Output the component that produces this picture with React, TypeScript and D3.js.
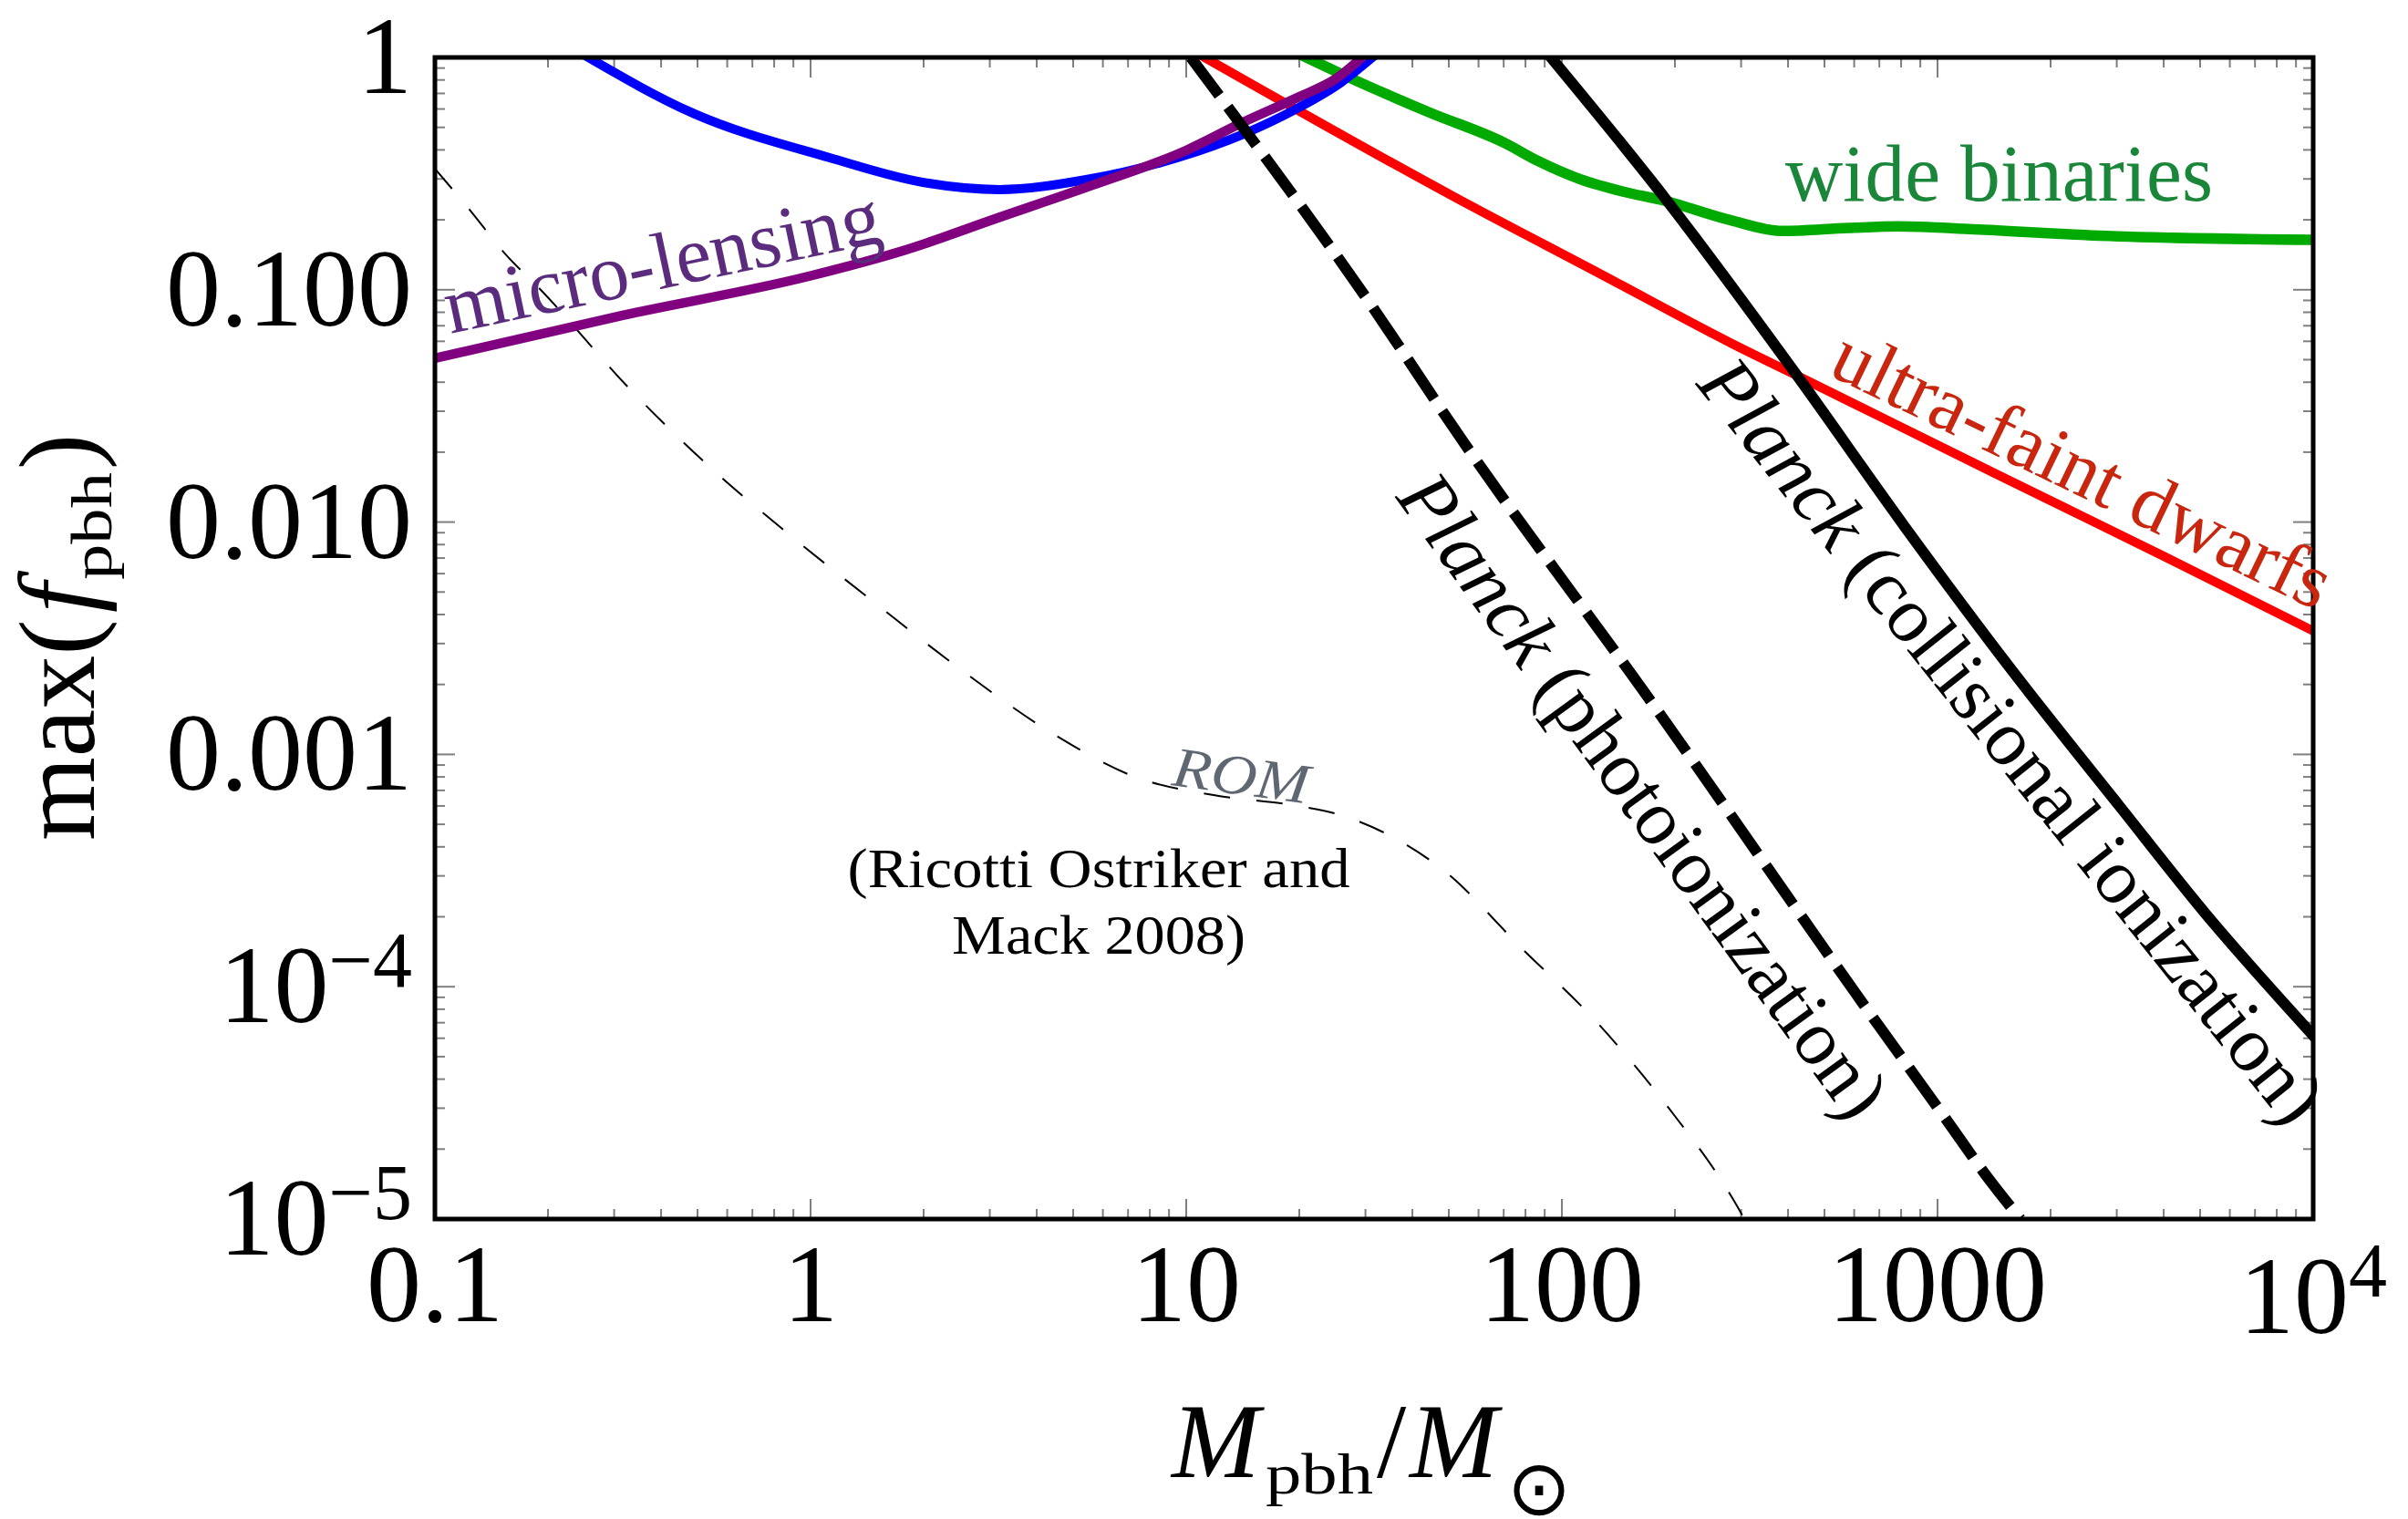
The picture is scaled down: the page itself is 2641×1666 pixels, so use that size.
import React from "react";
import * as d3 from "d3";

const WIDTH = 2641;
const HEIGHT = 1666;
const PLOT = { left: 477, right: 2537, top: 63, bottom: 1337 };

// Upper bounds on the PBH dark-matter fraction: mass in solar masses, max f_pbh.
const lensingBlueMass = [0.256, 0.479, 1.125, 1.99, 3.18, 5.41, 9.46, 14.2, 19.5, 25.9, 31.3];
const lensingBlueF = [1.0, 0.582, 0.37, 0.29, 0.27, 0.298, 0.37, 0.468, 0.597, 0.783, 1.0];

const microLensingMass = [0.1, 0.316, 1.0, 1.778, 3.162, 5.623, 10.0, 14.13, 19.95, 25.12, 29.38];
const microLensingF = [0.0507, 0.0776, 0.1148, 0.1479, 0.2042, 0.2818, 0.3981, 0.5248, 0.6761, 0.8128, 1.0];

const wideBinariesMass = [20.9, 26.6, 44.5, 70.3, 86.5, 112, 145, 187, 282, 385, 579, 787, 1250, 2704, 10000];
const wideBinariesF = [1.0, 0.832, 0.579, 0.429, 0.358, 0.299, 0.265, 0.242, 0.199, 0.179, 0.1845, 0.1875, 0.182, 0.171, 0.164];

const ufdMass = [11.2, 52.2, 126, 284, 423, 1390, 4000, 10000];
const ufdF = [1.0, 0.249, 0.1175, 0.0586, 0.0427, 0.0165, 0.00713, 0.0034];

const planckCollMass = [93.5, 187, 423, 818, 1581, 3041, 5200, 10000];
const planckCollF = [1.0, 0.2512, 0.04266, 0.00955, 0.002291, 0.000603, 0.000204, 0.0000617];

const planckPhotoMass = [10.28, 30.9, 54.3, 164.4, 695, 1040, 1358, 1663];
const planckPhotoF = [1.0, 0.0871, 0.02249, 0.001888, 0.0000685, 0.0000277, 0.00001514, 0.00001];

const romMass = [0.1, 0.1236, 0.1528, 0.1914, 0.3342, 0.5383, 0.8995, 1.514, 2.559, 4.426, 7.311, 11.83, 19.23, 25.29, 37.58, 48.31, 77.8, 125.0, 191.4, 284.4, 306.2];
const romF = [0.3319, 0.2213, 0.1445, 0.0998, 0.03664, 0.0173, 0.00855, 0.004375, 0.002265, 0.001225, 0.0008, 0.000668, 0.000605, 0.000553, 0.000418, 0.000318, 0.0001476, 0.0000692, 0.0000304, 0.0000123, 0.00001];

// Axis ticks
const xTickValues = [0.1, 1, 10, 100, 1000, 10000];
const xTickBases = ["0.1", "1", "10", "100", "1000", "10"];
const xTickExps = ["", "", "", "", "", "4"];

const yTickValues = [1, 0.1, 0.01, 0.001, 0.0001, 0.00001];
const yTickBases = ["1", "0.100", "0.010", "0.001", "10", "10"];
const yTickExps = ["", "", "", "", "\u22124", "\u22125"];

type Pt = [number, number];
const zip = (m: number[], f: number[]): Pt[] => m.map((v, i) => [v, f[i]] as Pt);

const SERIF = "'Liberation Serif', 'Times New Roman', Times, serif";

export default function App() {
  const x = d3.scaleLog().domain([0.1, 1e4]).range([PLOT.left, PLOT.right]);
  const y = d3.scaleLog().domain([1e-5, 1]).range([PLOT.bottom, PLOT.top]);

  const line = d3
    .line<Pt>()
    .x((d) => x(d[0]))
    .y((d) => y(d[1]))
    .curve(d3.curveMonotoneX);

  const curves = [
    { key: "rom", data: zip(romMass, romF), stroke: "#000", width: 2, dash: "29 29", cap: "butt" },
    { key: "wide", data: zip(wideBinariesMass, wideBinariesF), stroke: "#00aa00", width: 11.5, dash: null, cap: "square" },
    { key: "ufd", data: zip(ufdMass, ufdF), stroke: "#ff0000", width: 10, dash: null, cap: "square" },
    { key: "blue", data: zip(lensingBlueMass, lensingBlueF), stroke: "#0000ff", width: 10, dash: null, cap: "square" },
    { key: "micro", data: zip(microLensingMass, microLensingF), stroke: "#800080", width: 10.5, dash: null, cap: "square" },
    { key: "coll", data: zip(planckCollMass, planckCollF), stroke: "#000", width: 12, dash: null, cap: "square" },
    { key: "photo", data: zip(planckPhotoMass, planckPhotoF), stroke: "#000", width: 12, dash: "52 16", cap: "butt" },
  ];

  const isDecade = (v: number) => Math.abs(Math.log10(v) - Math.round(Math.log10(v))) < 1e-6;
  const xTicks = x.ticks();
  const yTicks = y.ticks();
  const major = 22;
  const minor = 11;
  const tickColor = "#7f7f7f";

  return (
    <svg
      width={WIDTH}
      height={HEIGHT}
      style={{ position: "absolute", left: 0, top: 0, background: "#fff" }}
      fontFamily={SERIF}
    >
      <defs>
        <clipPath id="plotArea">
          <rect x={PLOT.left} y={PLOT.top} width={PLOT.right - PLOT.left} height={PLOT.bottom - PLOT.top} />
        </clipPath>
      </defs>
      <rect x={0} y={0} width={WIDTH} height={HEIGHT} fill="#fff" />

      {/* ticks on all four sides, pointing inward */}
      <g stroke={tickColor} strokeWidth={2}>
        {xTicks.map((v, i) => {
          const len = isDecade(v) ? major : minor;
          const px = x(v);
          return (
            <g key={"xt" + i}>
              <line x1={px} x2={px} y1={PLOT.bottom} y2={PLOT.bottom - len} />
              <line x1={px} x2={px} y1={PLOT.top} y2={PLOT.top + len} />
            </g>
          );
        })}
        {yTicks.map((v, i) => {
          const len = isDecade(v) ? major : minor;
          const py = y(v);
          return (
            <g key={"yt" + i}>
              <line x1={PLOT.left} x2={PLOT.left + len} y1={py} y2={py} />
              <line x1={PLOT.right} x2={PLOT.right - len} y1={py} y2={py} />
            </g>
          );
        })}
      </g>

      {/* constraint curves */}
      <g clipPath="url(#plotArea)" fill="none">
        {curves.map((c) => (
          <path
            key={c.key}
            d={line(c.data) || ""}
            stroke={c.stroke}
            strokeWidth={c.width}
            strokeDasharray={c.dash || undefined}
            strokeLinecap={c.cap as any}
            strokeLinejoin="round"
          />
        ))}
      </g>

      {/* frame */}
      <rect
        x={PLOT.left}
        y={PLOT.top}
        width={PLOT.right - PLOT.left}
        height={PLOT.bottom - PLOT.top}
        fill="none"
        stroke="#000"
        strokeWidth={5}
      />

      {/* tick labels */}
      <g fontSize={120} fill="#000">
        {yTickValues.map((v, i) => (
          <text key={"yl" + i} x={452} y={y(v) + 39} textAnchor="end">
            {yTickBases[i]}
            {yTickExps[i] ? (
              <tspan fontSize={86} dy={-39}>
                {yTickExps[i]}
              </tspan>
            ) : null}
          </text>
        ))}
        {xTickValues.map((v, i) => (
          <text key={"xl" + i} x={x(v)} y={xTickExps[i] ? 1462 : 1449} textAnchor="middle">
            {xTickBases[i]}
            {xTickExps[i] ? (
              <tspan fontSize={84} dy={-40}>
                {xTickExps[i]}
              </tspan>
            ) : null}
          </text>
        ))}
      </g>

      {/* axis titles */}
      <g fill="#000">
        <text x={1285} y={1620} fontSize={116} fontStyle="italic">M</text>
        <text x={1388} y={1638} fontSize={64} textLength={118} lengthAdjust="spacingAndGlyphs">pbh</text>
        <text x={1510} y={1620} fontSize={116}>/</text>
        <text x={1546} y={1620} fontSize={116} fontStyle="italic">M</text>
        <text x={1688} y={1632} fontSize={84} fontFamily="'DejaVu Sans', sans-serif" textAnchor="middle" dominantBaseline="central">
          {"\u2299"}
        </text>
      </g>
      <g fill="#000" transform="translate(103, 922) rotate(-90)">
        <text x={0} y={0} fontSize={118}>max(</text>
        <text x={250} y={0} fontSize={118} fontStyle="italic">f</text>
        <text x={286} y={19} fontSize={64} textLength={118} lengthAdjust="spacingAndGlyphs">pbh</text>
        <text x={407} y={0} fontSize={118}>)</text>
      </g>

      {/* curve annotations */}
      <text
        x={494}
        y={366}
        transform="rotate(-12, 494, 366)"
        fontSize={88}
        fill="#5b2c7d"
        textLength={487}
        lengthAdjust="spacingAndGlyphs"
      >
        micro-lensing
      </text>
      <text x={1958} y={220} fontSize={88} fill="#19863a" textLength={469} lengthAdjust="spacingAndGlyphs">
        wide binaries
      </text>
      <text
        x={2003}
        y={410}
        transform="rotate(25.8, 2003, 410)"
        fontSize={86}
        fill="#c8260e"
        textLength={597}
        lengthAdjust="spacingAndGlyphs"
      >
        ultra-faint dwarfs
      </text>
      <text
        x={2207}
        y={812}
        transform="rotate(51.5, 2207, 812)"
        fontSize={86}
        fill="#000"
        textAnchor="middle"
        dominantBaseline="central"
        textLength={1045}
        lengthAdjust="spacingAndGlyphs"
      >
        <tspan fontStyle="italic">Planck</tspan> (collisional ionization)
      </text>
      <text
        x={1803}
        y={872}
        transform="rotate(54, 1803, 872)"
        fontSize={86}
        fill="#000"
        textAnchor="middle"
        dominantBaseline="central"
        textLength={850}
        lengthAdjust="spacingAndGlyphs"
      >
        <tspan fontStyle="italic">Planck</tspan> (photoionization)
      </text>
      <text
        x={1284}
        y={861}
        transform="rotate(7.8, 1284, 861)"
        fontSize={62}
        fontStyle="italic"
        fill="#5f6772"
        textLength={150}
        lengthAdjust="spacingAndGlyphs"
      >
        ROM
      </text>
      <text x={1205} y={973} fontSize={62} textAnchor="middle" textLength={551} lengthAdjust="spacingAndGlyphs">
        (Ricotti Ostriker and
      </text>
      <text x={1205} y={1046} fontSize={62} textAnchor="middle" textLength={322} lengthAdjust="spacingAndGlyphs">
        Mack 2008)
      </text>
    </svg>
  );
}
